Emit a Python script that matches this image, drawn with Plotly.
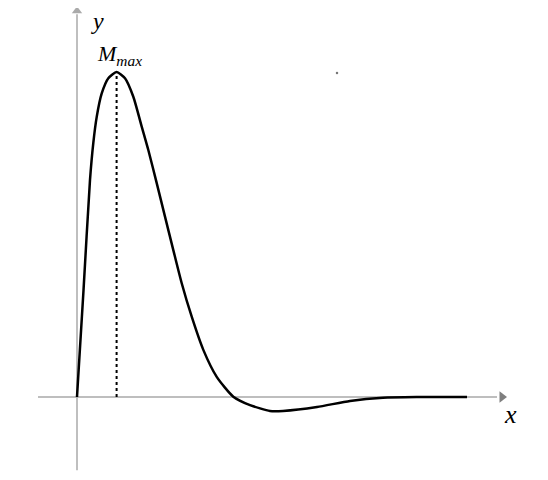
import plotly.graph_objects as go

# curve (x in arbitrary units, y normalised to the peak)
curve_x = [0, 0.163, 0.325, 0.408, 0.493, 0.618, 0.783, 0.99, 1.2, 1.408, 1.618, 1.783,
           1.993, 2.2, 2.408, 2.618, 2.868, 3.158, 3.493, 3.908, 4.325, 4.825, 5.15,
           6.0, 6.825, 7.65, 8.5, 9.75]
curve_y = [0, 0.329, 0.668, 0.782, 0.862, 0.934, 0.981, 1.0, 0.981, 0.924, 0.832, 0.76,
           0.658, 0.555, 0.452, 0.35, 0.247, 0.145, 0.062, 0.001, -0.025, -0.043, -0.043,
           -0.031, -0.012, -0.002, 0.0, 0.0]
peak_x, peak_y = 0.99, 1.0

# axis extents
x_axis_start, x_axis_end = -0.975, 10.5
y_axis_start, y_axis_end = -0.225, 1.178

fig = go.Figure()

# axes with arrow heads
fig.add_trace(go.Scatter(x=[x_axis_start, x_axis_end], y=[0, 0], mode="lines",
                         line=dict(color="#7f7f7f", width=1.2), hoverinfo="skip"))
fig.add_trace(go.Scatter(x=[0, 0], y=[y_axis_start, y_axis_end], mode="lines",
                         line=dict(color="#aaaaaa", width=1.5), hoverinfo="skip"))
fig.add_trace(go.Scatter(x=[x_axis_end + 0.125], y=[0], mode="markers",
                         marker=dict(symbol="triangle-right", size=10, color="#7f7f7f",
                                     line=dict(width=0))))
fig.add_trace(go.Scatter(x=[0], y=[y_axis_end + 0.01], mode="markers",
                         marker=dict(symbol="triangle-up", size=9, color="#aaaaaa",
                                     line=dict(width=0))))

# dotted line under the maximum
fig.add_trace(go.Scatter(x=[peak_x, peak_x], y=[0, peak_y], mode="lines",
                         line=dict(color="black", width=2, dash="dot"),
                         hoverinfo="skip"))

fig.add_trace(go.Scatter(x=curve_x, y=curve_y, mode="lines",
                         line=dict(color="black", width=2.5, shape="spline", smoothing=0.6)))

# stray dot in the original
fig.add_trace(go.Scatter(x=[6.5], y=[0.997], mode="markers",
                         marker=dict(color="#777777", size=2.5)))

serif = "Liberation Serif"
fig.add_annotation(x=0.5, y=1.157, text="<i>y</i>", showarrow=False,
                   font=dict(family=serif, size=24, color="black"))
fig.add_annotation(x=10.825, y=-0.055, text="<i>x</i>", showarrow=False,
                   font=dict(family=serif, size=26, color="black"))
fig.add_annotation(x=1.05, y=1.052, text="<i>M<sub>max</sub></i>", showarrow=False,
                   font=dict(family=serif, size=22, color="black"))

# ranges offset by the page's 8px body margin
fig.update_xaxes(range=[-1.725, 11.975], visible=False)
fig.update_yaxes(range=[-0.28, 1.197], visible=False)
fig.update_layout(width=548, height=480, margin=dict(l=0, r=0, t=0, b=0),
                  showlegend=False, plot_bgcolor="white", paper_bgcolor="white")

fig.write_html("out.html")
